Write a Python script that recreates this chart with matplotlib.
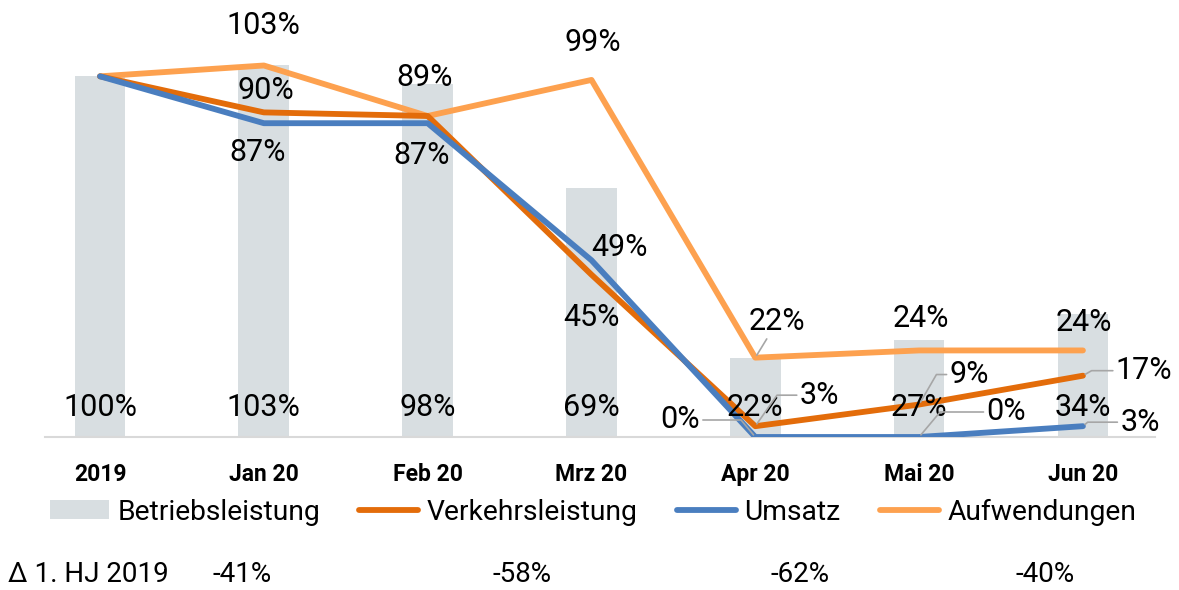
import numpy as np
import matplotlib
matplotlib.use('Agg')
import matplotlib.pyplot as plt
from matplotlib.patches import Patch
from matplotlib.lines import Line2D

plt.rcParams['font.family'] = ['Roboto', 'DejaVu Sans']

# Data
categories = ['2019', 'Jan 20', 'Feb 20', 'Mrz 20', 'Apr 20', 'Mai 20', 'Jun 20']
betriebsleistung = [100, 103, 98, 69, 22, 27, 34]
verkehrsleistung = [100, 90, 89, 45, 3, 9, 17]
umsatz = [100, 87, 87, 49, 0, 0, 3]
aufwendungen = [100, 103, 89, 99, 22, 24, 24]
delta_label = 'Δ 1. HJ 2019'
delta_values = ['-41%', '-58%', '-62%', '-40%']

c_bar = '#d8dee1'
c_verk = '#e36c0a'
c_ums = '#4a7ebf'
c_aufw = '#fda14f'
c_lead = '#a6a6a6'

fig = plt.figure(figsize=(11.79, 5.90), dpi=100)
ax = fig.add_axes([45 / 1179, 153 / 590, 1110 / 1179, 422 / 590])

x = np.arange(len(categories))
ax.bar(x, betriebsleistung, width=0.31, color=c_bar, zorder=1)
ax.plot(x, verkehrsleistung, color=c_verk, lw=4.2, zorder=3, solid_capstyle='round')
ax.plot(x, umsatz, color=c_ums, lw=4.2, zorder=4, solid_capstyle='round')
ax.plot(x, aufwendungen, color=c_aufw, lw=4.2, zorder=2, solid_capstyle='round')

ax.set_xlim(-0.336, 6.44)
ax.set_ylim(0, 117)

for s in ['top', 'right', 'left']:
    ax.spines[s].set_visible(False)
ax.spines['bottom'].set_color('#d9d9d9')
ax.spines['bottom'].set_linewidth(1.5)
ax.set_yticks([])
ax.set_xticks(x)
ax.set_xticklabels(categories, fontsize=16.5, fontweight='bold')
ax.tick_params(axis='x', length=0, pad=19)

fs = 22

# bar labels near the base
for i, v in enumerate(betriebsleistung):
    ax.annotate(f'{v}%', (i, 0), xytext=(0, 29), textcoords='offset pixels',
                ha='center', va='center', fontsize=fs, zorder=6)


def lab(series, i, dx, dy, angle=None):
    kw = {}
    if angle == 'straight':
        kw['arrowprops'] = dict(arrowstyle='-', color=c_lead, lw=1.2, shrinkA=0, shrinkB=2)
    elif angle is not None:
        kw['arrowprops'] = dict(arrowstyle='-', color=c_lead, lw=1.2, shrinkA=0, shrinkB=2,
                                connectionstyle=f'angle,angleA=0,angleB={angle},rad=0')
    ax.annotate(f'{series[i]}%', (i, series[i]), xytext=(dx, dy), textcoords='offset pixels',
                ha='center', va='center', fontsize=fs, zorder=6, **kw)


# Aufwendungen
lab(aufwendungen, 1, 0, 40)
lab(aufwendungen, 2, -3, 38)
lab(aufwendungen, 3, 1, 37)
lab(aufwendungen, 4, 22, 36, angle='straight')
lab(aufwendungen, 5, 2, 32)
lab(aufwendungen, 6, 1, 28)
# Verkehrsleistung
lab(verkehrsleistung, 1, 2, 22)
lab(verkehrsleistung, 3, 0, -43)
lab(verkehrsleistung, 4, 64, 31, angle=55)
lab(verkehrsleistung, 5, 50, 30, angle=60)
lab(verkehrsleistung, 6, 61, 5, angle=30)
# Umsatz
lab(umsatz, 1, -6, -29)
lab(umsatz, 2, -6, -32)
lab(umsatz, 3, 28, 13)
lab(umsatz, 4, -75, 17, angle=-50)
lab(umsatz, 5, 87, 25, angle=50)
lab(umsatz, 6, 57, 4, angle=40)

handles = [
    Patch(facecolor=c_bar, edgecolor='none'),
    Line2D([], [], color=c_verk, lw=4.2, solid_capstyle='round'),
    Line2D([], [], color=c_ums, lw=4.2, solid_capstyle='round'),
    Line2D([], [], color=c_aufw, lw=4.2, solid_capstyle='round'),
]
names = ['Betriebsleistung', 'Verkehrsleistung', 'Umsatz', 'Aufwendungen']
fig.legend(handles, names, loc='center', bbox_to_anchor=(0.503, 1 - 512 / 590), ncol=4,
           frameon=False, fontsize=20.3, handlelength=2.1, handleheight=0.65,
           handletextpad=0.3, columnspacing=1.38)

fig.text(8 / 1179, 1 - 575 / 590, delta_label, fontsize=20, va='center', ha='left')
for xp, t in zip([242, 522, 800, 1045], delta_values):
    fig.text(xp / 1179, 1 - 575 / 590, t, fontsize=20, va='center', ha='center')

fig.savefig('out.png', dpi=100)
